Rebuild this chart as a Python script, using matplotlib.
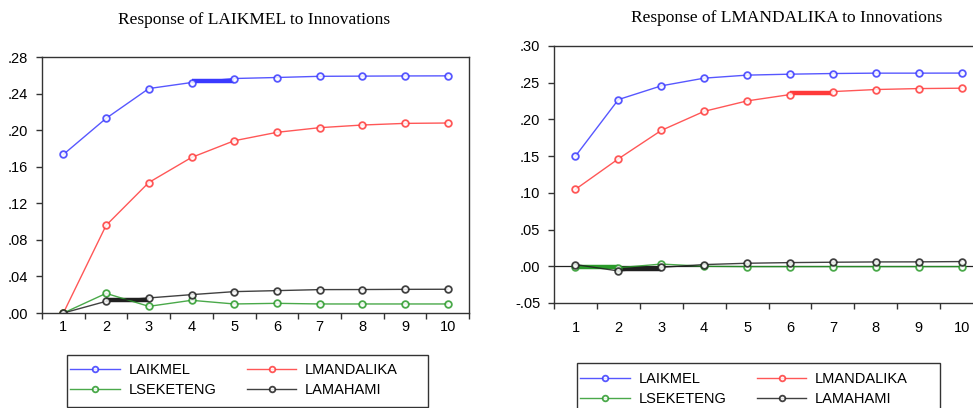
import matplotlib.pyplot as plt
import matplotlib.patches as patches
from matplotlib.ticker import FixedLocator, FuncFormatter

periods = [1, 2, 3, 4, 5, 6, 7, 8, 9, 10]
names = ["LAIKMEL", "LMANDALIKA", "LSEKETENG", "LAMAHAMI"]
colors = ["#3a3aff", "#ff3a3a", "#2a9a2a", "#202020"]

# response of LAIKMEL
left_laikmel = [0.1735, 0.213, 0.2456, 0.2522, 0.2566, 0.2577, 0.2590, 0.2592, 0.2594, 0.2595]
left_lmandalika = [0.0, 0.0959, 0.1428, 0.1702, 0.1885, 0.1977, 0.2028, 0.2057, 0.2075, 0.2079]
left_lseketeng = [0.0, 0.0215, 0.0073, 0.0139, 0.0099, 0.0106, 0.0099, 0.0099, 0.0099, 0.0099]
left_lamahami = [0.0, 0.0128, 0.0165, 0.0201, 0.0234, 0.0245, 0.0256, 0.0257, 0.0259, 0.0260]

# response of LMANDALIKA
right_laikmel = [0.150, 0.227, 0.2457, 0.2562, 0.2603, 0.2616, 0.2625, 0.2630, 0.2630, 0.2631]
right_lmandalika = [0.1048, 0.1463, 0.185, 0.211, 0.2252, 0.2338, 0.2379, 0.2407, 0.2420, 0.2425]
right_lseketeng = [-0.001, -0.002, 0.003, 0.0, -0.0005, -0.0005, -0.0005, -0.0005, -0.0005, -0.0005]
right_lamahami = [0.0023, -0.0064, -0.0014, 0.0023, 0.0041, 0.0050, 0.0055, 0.0059, 0.0060, 0.0064]

# highlighted (thick) segments: series name, starting period
left_hl = [("LAIKMEL", 4), ("LAMAHAMI", 2)]
right_hl = [("LMANDALIKA", 6), ("LAMAHAMI", 2), ("LSEKETENG", 1)]

left_ticks = [0.0, 0.04, 0.08, 0.12, 0.16, 0.20, 0.24, 0.28]
right_ticks = [-0.05, 0.0, 0.05, 0.10, 0.15, 0.20, 0.25, 0.30]


def fmt(v, pos=None):
    s = "%.2f" % v
    return s.replace("0.", ".", 1)


def draw_panel(ax, series, hl, yticks, xpad):
    lines = []
    for name, vals, c in zip(names, series, colors):
        ln, = ax.plot(periods, vals, color=c, lw=1.0, marker="o", ms=4.8,
                      mfc="white", mec=c, mew=1.3, label=name, alpha=0.85)
        lines.append(ln)
    for name, start in hl:
        k = names.index(name)
        vals = series[k]
        i = periods.index(start)
        m = (vals[i] + vals[i + 1]) / 2
        ax.plot([periods[i], periods[i + 1]], [m, m], color=colors[k], lw=3.2,
                solid_capstyle="butt", zorder=1)
    ax.set_xlim(0.5, 10.5)
    ax.set_ylim(yticks[0], yticks[-1])
    ax.xaxis.set_major_locator(FixedLocator(periods))
    ax.xaxis.set_minor_locator(FixedLocator([p - 0.5 for p in periods] + [10.5]))
    ax.yaxis.set_major_locator(FixedLocator(yticks))
    ax.yaxis.set_major_formatter(FuncFormatter(fmt))
    ax.tick_params(axis="x", which="major", length=0, pad=xpad, labelsize=10.5)
    ax.tick_params(axis="x", which="minor", length=4, width=1, color="#333333")
    ax.tick_params(axis="y", which="major", length=4, width=1, pad=6, labelsize=10.5,
                   color="#333333")
    for sp in ax.spines.values():
        sp.set_color("#333333")
        sp.set_linewidth(1.0)
    return lines


plt.rcParams["font.family"] = ["Liberation Sans", "DejaVu Sans"]
fig = plt.figure(figsize=(9.73, 4.08), dpi=100)

ax1 = fig.add_axes([0.0432, 0.2328, 0.4389, 0.6272])
lines = draw_panel(ax1, [left_laikmel, left_lmandalika, left_lseketeng, left_lamahami],
                   left_hl, left_ticks, 5)

ax2 = fig.add_axes([0.5694, 0.2574, 0.4409, 0.6299])
draw_panel(ax2, [right_laikmel, right_lmandalika, right_lseketeng, right_lamahami],
           right_hl, right_ticks, 13)
ax2.axhline(0, color="#222222", lw=0.9, zorder=0)
ax2.spines["right"].set_visible(False)

fig.text(254 / 973, 1 - 20 / 408, "Response of LAIKMEL to Innovations",
         family="Liberation Serif", fontsize=12.5, ha="center", va="center")
fig.text(787 / 973, 1 - 18 / 408, "Response of LMANDALIKA to Innovations",
         family="Liberation Serif", fontsize=12.5, ha="center", va="center")

# legend order row-wise: LAIKMEL, LMANDALIKA / LSEKETENG, LAMAHAMI
order = [0, 2, 1, 3]
for box, anchor in [((67, 355, 361, 52), (70, 363)), ((577, 363, 363, 60), (580, 372))]:
    x, y, w, h = box
    fig.patches.append(patches.Rectangle((x / 973, 1 - (y + h) / 408), w / 973, h / 408,
                                         transform=fig.transFigure, fill=False,
                                         ec="#333333", lw=1.0))
    fig.legend([lines[k] for k in order], [names[k] for k in order], ncol=2,
               frameon=False, fontsize=10.5, loc="upper left",
               bbox_to_anchor=(anchor[0] / 973, 1 - anchor[1] / 408),
               handlelength=3.4, handletextpad=0.6, columnspacing=2.1,
               labelspacing=0.4, borderpad=0.0, borderaxespad=0.0,
               markerscale=0.85)

fig.savefig("out.png", dpi=100)
